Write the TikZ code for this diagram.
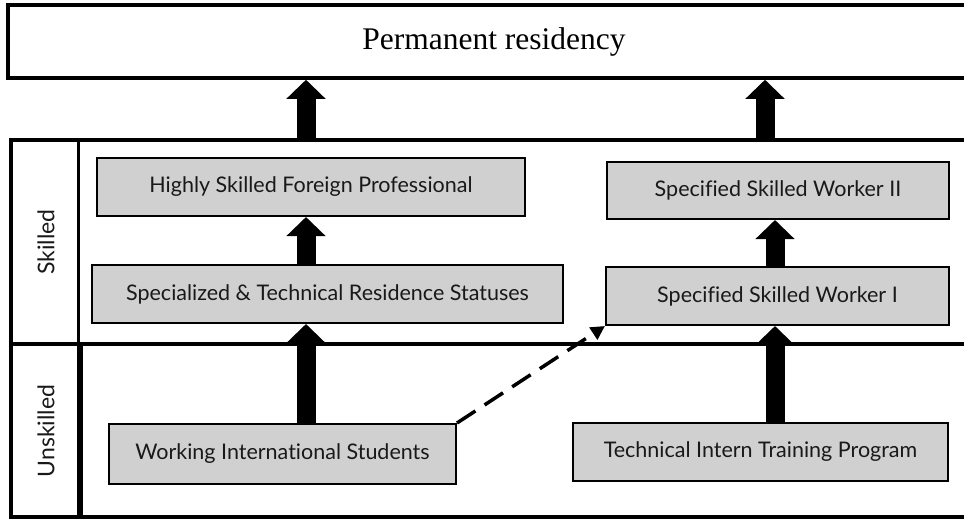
\documentclass[tikz,border=0pt]{standalone}
\usepackage{fontspec}
\setmainfont{Liberation Serif}
\newfontfamily\boxfont[Ligatures=NoCommon]{Lato}
\usetikzlibrary{arrows.meta}
\definecolor{boxgray}{RGB}{208,208,208}
\tikzset{
  gbox/.style={draw=black, line width=2pt, fill=boxgray, inner sep=0pt,
    font=\boxfont\fontsize{21.5}{24}\selectfont, text=black!90},
  framebox/.style={line width=3.5pt},
  bigarrow/.style={line width=19pt, -{Triangle[length=19pt,width=38pt]}},
  dasharrow/.style={line width=3.5pt, dash pattern=on 22pt off 11pt,
    -{Triangle[length=14pt,width=14pt]}},
  sidelabel/.style={rotate=90, font=\boxfont\fontsize{23}{26}\selectfont, text=black!90},
}
\begin{document}
\begin{tikzpicture}[x=1pt,y=-1pt]
\useasboundingbox (0,0) rectangle (964,519);
% frames
\draw[framebox] (11,140) rectangle (1000,344);
\draw[framebox] (78.5,140) -- (78.5,344);
\draw[framebox] (11,344) rectangle (1000,517);
\draw[line width=6pt] (80,344) -- (80,517);
\node[sidelabel] (sk) at (46,242) {Skilled};
\node[sidelabel] (unsk) at (46,431) {Unskilled};
% top box
\node[draw, line width=3.5pt, minimum width=972pt, minimum height=73pt, inner sep=0pt,
  font=\fontsize{31.5}{36}\selectfont] (pr) at (494,41.5) {Permanent residency};
% boxes
\node[gbox, minimum width=428pt, minimum height=58pt] (hsfp) at (311,187) {Highly Skilled Foreign Professional};
\node[gbox, minimum width=471pt, minimum height=58pt] (spec) at (327.5,294) {Specialized \& Technical Residence Statuses};
\node[gbox, minimum width=347pt, minimum height=60pt] (wis) at (282.5,454) {Working International Students};
\node[gbox, minimum width=342pt, minimum height=57pt] (ssw2) at (778,190.5) {Specified Skilled Worker II};
\node[gbox, minimum width=343pt, minimum height=58pt] (ssw1) at (777.5,296) {Specified Skilled Worker I};
\node[gbox, minimum width=375pt, minimum height=58pt] (titp) at (760.5,452) {Technical Intern Training Program};
% arrow columns
\coordinate (lc) at (306,0);
\coordinate (rc) at (775,0);
\coordinate (tl) at (306,140);
\coordinate (tr) at (765,140);
\draw[bigarrow] (tl) -- (tl |- pr.south);
\draw[bigarrow] (tr) -- (tr |- pr.south);
\draw[bigarrow] (spec.north -| lc) -- (hsfp.south -| lc);
\draw[bigarrow] (wis.north -| lc) -- (spec.south -| lc);
\draw[bigarrow] (ssw1.north -| rc) -- (ssw2.south -| rc);
\draw[bigarrow] (titp.north -| rc) -- (ssw1.south -| rc);
\draw[dasharrow] (wis.north east) -- (ssw1.south west);
\end{tikzpicture}
\end{document}
